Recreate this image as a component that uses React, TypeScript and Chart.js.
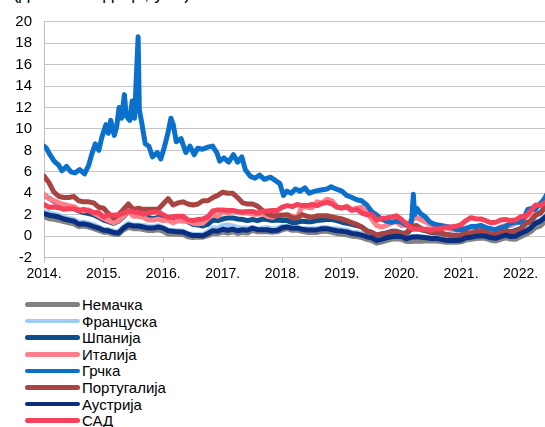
import React, { useEffect, useRef } from 'react';
import { Chart, registerables } from 'chart.js';

Chart.register(...registerables);

const TITLE = '(дневни подаци, у %)';
const START_YEAR = 2014;
const YEAR_TICKS = [2014, 2015, 2016, 2017, 2018, 2019, 2020, 2021, 2022];
const Y_TICKS = [-2, 0, 2, 4, 6, 8, 10, 12, 14, 16, 18, 20];

// Monthly values, Jan 2014 .. Jun 2022
const DE = [
  1.80, 1.62, 1.57, 1.47, 1.36, 1.25, 1.16, 0.89, 0.95, 0.84, 0.70, 0.54,
  0.36, 0.33, 0.18, 0.16, 0.58, 0.80, 0.70, 0.70, 0.62, 0.52, 0.52, 0.60,
  0.45, 0.20, 0.20, 0.18, 0.15, -0.05, -0.12, -0.08, -0.10, 0.05, 0.25, 0.25,
  0.38, 0.28, 0.40, 0.25, 0.35, 0.30, 0.55, 0.40, 0.43, 0.42, 0.37, 0.40,
  0.60, 0.70, 0.55, 0.58, 0.45, 0.35, 0.35, 0.35, 0.45, 0.45, 0.35, 0.25,
  0.18, 0.12, 0.00, -0.03, -0.12, -0.30, -0.40, -0.65, -0.55, -0.40, -0.30, -0.25,
  -0.30, -0.50, -0.50, -0.45, -0.48, -0.42, -0.46, -0.45, -0.50, -0.58, -0.58, -0.57,
  -0.53, -0.35, -0.30, -0.22, -0.17, -0.22, -0.38, -0.45, -0.30, -0.15, -0.27, -0.28,
  -0.05, 0.15, 0.40, 0.80, 0.95, 1.40,
];
const FR = [
  2.30, 2.20, 2.05, 1.95, 1.75, 1.65, 1.55, 1.30, 1.30, 1.20, 1.05, 0.85,
  0.60, 0.62, 0.45, 0.40, 0.85, 1.20, 1.05, 1.05, 1.00, 0.90, 0.88, 0.98,
  0.80, 0.55, 0.50, 0.50, 0.45, 0.25, 0.15, 0.15, 0.15, 0.40, 0.75, 0.75,
  1.00, 1.05, 0.95, 0.80, 0.75, 0.75, 0.80, 0.65, 0.75, 0.80, 0.65, 0.75,
  0.92, 0.88, 0.75, 0.80, 0.70, 0.70, 0.70, 0.70, 0.80, 0.80, 0.70, 0.70,
  0.60, 0.55, 0.35, 0.35, 0.25, 0.00, -0.15, -0.38, -0.25, -0.05, 0.05, 0.10,
  -0.05, -0.20, 0.00, -0.05, -0.05, -0.10, -0.15, -0.10, -0.20, -0.30, -0.30, -0.35,
  -0.30, -0.05, -0.05, 0.15, 0.20, 0.15, -0.05, -0.10, 0.10, 0.25, 0.10, 0.15,
  0.40, 0.65, 0.95, 1.40, 1.50, 1.95,
];
const ES = [
  3.80, 3.55, 3.25, 3.05, 2.85, 2.70, 2.60, 2.35, 2.20, 2.10, 2.00, 1.75,
  1.50, 1.35, 1.20, 1.40, 1.80, 2.30, 2.10, 2.00, 1.95, 1.75, 1.60, 1.75,
  1.65, 1.70, 1.45, 1.55, 1.55, 1.35, 1.10, 1.05, 0.95, 1.10, 1.50, 1.45,
  1.60, 1.70, 1.70, 1.60, 1.55, 1.45, 1.55, 1.45, 1.60, 1.55, 1.45, 1.50,
  1.45, 1.45, 1.25, 1.30, 1.40, 1.35, 1.35, 1.45, 1.50, 1.55, 1.55, 1.45,
  1.30, 1.20, 1.10, 1.00, 0.85, 0.50, 0.35, 0.10, 0.20, 0.30, 0.45, 0.45,
  0.30, 0.25, 0.65, 0.75, 0.60, 0.50, 0.35, 0.35, 0.25, 0.15, 0.10, 0.05,
  0.10, 0.35, 0.35, 0.45, 0.50, 0.40, 0.30, 0.30, 0.40, 0.55, 0.40, 0.55,
  0.70, 1.20, 1.40, 1.95, 2.20, 2.75,
];
const IT = [
  3.90, 3.50, 3.30, 3.10, 2.95, 2.85, 2.75, 2.45, 2.35, 2.45, 2.15, 1.90,
  1.65, 1.45, 1.25, 1.45, 1.85, 2.35, 1.85, 1.85, 1.75, 1.50, 1.50, 1.60,
  1.45, 1.50, 1.25, 1.45, 1.40, 1.40, 1.20, 1.15, 1.20, 1.65, 2.00, 1.85,
  2.30, 2.15, 2.35, 2.25, 2.15, 2.15, 2.05, 2.05, 2.10, 1.85, 1.75, 2.00,
  1.95, 1.95, 1.85, 1.75, 2.75, 2.70, 2.65, 3.20, 3.10, 3.45, 3.30, 2.75,
  2.60, 2.80, 2.50, 2.60, 2.70, 2.20, 1.60, 1.00, 0.85, 1.00, 1.25, 1.35,
  1.00, 1.05, 1.50, 1.75, 1.50, 1.30, 1.00, 1.05, 0.85, 0.75, 0.65, 0.55,
  0.70, 0.75, 0.65, 0.80, 0.95, 0.80, 0.60, 0.65, 0.85, 1.00, 1.00, 1.20,
  1.35, 1.80, 2.05, 2.75, 2.90, 3.60,
];
const PT = [
  5.60, 5.00, 4.10, 3.70, 3.60, 3.60, 3.70, 3.30, 3.20, 3.20, 3.10, 2.70,
  2.60, 2.10, 1.70, 2.00, 2.50, 3.00, 2.50, 2.60, 2.50, 2.50, 2.50, 2.50,
  3.00, 3.50, 2.90, 3.10, 3.20, 3.00, 2.90, 3.00, 3.30, 3.30, 3.60, 3.80,
  4.10, 4.00, 4.00, 3.60, 3.10, 3.00, 3.00, 2.80, 2.40, 2.10, 1.90, 1.90,
  1.95, 2.00, 1.70, 1.70, 2.00, 1.85, 1.75, 1.90, 1.90, 1.90, 1.80, 1.70,
  1.60, 1.45, 1.25, 1.10, 0.85, 0.50, 0.35, 0.10, 0.20, 0.25, 0.40, 0.45,
  0.25, 0.30, 0.90, 1.00, 0.70, 0.50, 0.35, 0.40, 0.25, 0.15, 0.05, 0.05,
  0.10, 0.30, 0.25, 0.45, 0.50, 0.40, 0.20, 0.20, 0.35, 0.50, 0.40, 0.45,
  0.60, 1.20, 1.35, 1.95, 2.15, 2.70,
];
const AT = [
  2.10, 1.95, 1.88, 1.78, 1.60, 1.50, 1.40, 1.12, 1.15, 1.05, 0.90, 0.75,
  0.55, 0.50, 0.35, 0.30, 0.75, 1.05, 0.95, 0.95, 0.85, 0.75, 0.75, 0.85,
  0.75, 0.50, 0.45, 0.40, 0.38, 0.20, 0.05, 0.05, 0.03, 0.25, 0.50, 0.45,
  0.65, 0.55, 0.65, 0.50, 0.60, 0.55, 0.75, 0.60, 0.60, 0.60, 0.50, 0.55,
  0.78, 0.85, 0.73, 0.75, 0.65, 0.57, 0.57, 0.58, 0.70, 0.70, 0.60, 0.50,
  0.45, 0.40, 0.25, 0.20, 0.10, -0.05, -0.15, -0.40, -0.30, -0.15, -0.05, 0.00,
  -0.05, -0.25, -0.10, -0.05, -0.10, -0.15, -0.22, -0.20, -0.30, -0.38, -0.40, -0.40,
  -0.35, -0.15, -0.10, 0.00, 0.05, 0.00, -0.15, -0.20, -0.05, 0.10, -0.03, 0.00,
  0.25, 0.45, 0.75, 1.20, 1.40, 1.80,
];
const US = [
  2.95, 2.70, 2.72, 2.65, 2.50, 2.55, 2.55, 2.40, 2.50, 2.35, 2.20, 2.20,
  1.80, 2.00, 1.95, 2.00, 2.15, 2.35, 2.25, 2.20, 2.05, 2.15, 2.25, 2.25,
  2.00, 1.75, 1.80, 1.85, 1.85, 1.50, 1.45, 1.55, 1.60, 1.80, 2.35, 2.45,
  2.45, 2.40, 2.40, 2.30, 2.25, 2.30, 2.30, 2.15, 2.30, 2.35, 2.40, 2.40,
  2.70, 2.85, 2.75, 2.95, 2.85, 2.85, 2.95, 2.85, 3.05, 3.15, 3.00, 2.70,
  2.65, 2.70, 2.40, 2.50, 2.15, 2.00, 2.02, 1.50, 1.65, 1.70, 1.78, 1.90,
  1.55, 1.15, 0.70, 0.65, 0.65, 0.65, 0.55, 0.70, 0.68, 0.85, 0.85, 0.92,
  1.08, 1.45, 1.72, 1.62, 1.60, 1.45, 1.25, 1.30, 1.50, 1.55, 1.45, 1.50,
  1.80, 1.85, 2.35, 2.90, 2.85, 3.15,
];

// Greece has its own, denser dates (decimal years)
const GR_DATES = [
  2014.00, 2014.04, 2014.10, 2014.17, 2014.25, 2014.30, 2014.38, 2014.45, 2014.52, 2014.60,
  2014.68, 2014.75, 2014.80, 2014.86, 2014.92, 2014.97, 2015.04, 2015.08, 2015.12, 2015.18,
  2015.22, 2015.26, 2015.30, 2015.35, 2015.38, 2015.44, 2015.48, 2015.52, 2015.55, 2015.58,
  2015.60, 2015.64, 2015.70, 2015.76, 2015.82, 2015.90, 2015.96, 2016.02, 2016.08, 2016.13,
  2016.17, 2016.22, 2016.30, 2016.38, 2016.45, 2016.52, 2016.58, 2016.66, 2016.75, 2016.83,
  2016.90, 2016.95, 2017.02, 2017.10, 2017.18, 2017.25, 2017.32, 2017.38, 2017.46, 2017.54,
  2017.62, 2017.70, 2017.80, 2017.88, 2017.96, 2018.02, 2018.08, 2018.15, 2018.22, 2018.30,
  2018.38, 2018.45, 2018.55, 2018.65, 2018.75, 2018.82, 2018.90, 2019.00, 2019.08, 2019.17,
  2019.25, 2019.33, 2019.42, 2019.50, 2019.58, 2019.66, 2019.75, 2019.83, 2019.92, 2020.00,
  2020.10, 2020.17, 2020.20, 2020.22, 2020.26, 2020.32, 2020.40, 2020.48, 2020.56, 2020.66,
  2020.75, 2020.85, 2020.93, 2021.00, 2021.08, 2021.17, 2021.25, 2021.33, 2021.42, 2021.50,
  2021.58, 2021.67, 2021.75, 2021.83, 2021.92, 2022.00, 2022.06, 2022.12, 2022.20, 2022.25,
  2022.30, 2022.36, 2022.40, 2022.45,
];
const GR = [
  8.4, 8.2, 7.6, 7.0, 6.6, 6.1, 6.5, 6.0, 5.9, 6.2,
  5.8, 6.6, 7.6, 8.6, 8.0, 9.2, 10.4, 9.6, 10.8, 9.4,
  10.2, 12.0, 11.0, 13.2, 11.2, 10.8, 12.6, 11.0, 14.8, 18.6,
  11.8, 10.6, 8.6, 8.4, 7.4, 7.8, 7.2, 8.3, 9.6, 11.0,
  10.4, 8.8, 9.1, 7.8, 8.4, 7.6, 8.2, 8.1, 8.3, 8.4,
  7.8, 7.0, 7.3, 6.9, 7.6, 6.9, 7.4, 6.2, 5.6, 5.4,
  5.7, 5.3, 5.5, 5.2, 4.9, 3.8, 4.2, 4.0, 4.4, 4.2,
  4.5, 4.0, 4.2, 4.3, 4.4, 4.6, 4.4, 4.2, 3.8, 3.6,
  3.4, 3.3, 2.9, 2.3, 2.0, 1.6, 1.4, 1.3, 1.4, 1.3,
  1.0, 1.3, 3.9, 2.0, 2.6, 2.1, 1.8, 1.3, 1.1, 1.0,
  0.9, 0.8, 0.6, 0.6, 0.7, 0.9, 0.9, 1.0, 0.8, 0.7,
  0.6, 0.8, 0.9, 1.2, 1.3, 1.3, 1.7, 2.5, 2.6, 2.5,
  2.9, 3.2, 3.5, 4.0,
];

const LABELS = ['Немачка', 'Француска', 'Шпанија', 'Италија', 'Грчка', 'Португалија', 'Аустрија', 'САД'];
const COLORS = ['#828282', '#9fcbf4', '#0c4f8c', '#fd7f89', '#0a70cb', '#a84442', '#0a2f80', '#f5415c'];

const FONT = "'Liberation Sans', Arial, sans-serif";

const monthly = (vals: number[]) => vals.map((v, i) => ({ x: START_YEAR + i / 12, y: v }));
const dated = (xs: number[], vals: number[]) => vals.map((v, i) => ({ x: xs[i], y: v }));

export default function App() {
  const ref = useRef<HTMLCanvasElement | null>(null);

  useEffect(() => {
    if (!ref.current) return;
    const seriesData = [
      monthly(DE), monthly(FR), monthly(ES), monthly(IT),
      dated(GR_DATES, GR), monthly(PT), monthly(AT), monthly(US),
    ];
    const chart = new Chart(ref.current, {
      type: 'line',
      data: {
        datasets: seriesData.map((d, i) => ({
          label: LABELS[i],
          data: d,
          borderColor: COLORS[i],
          backgroundColor: COLORS[i],
          borderWidth: 5,
          pointRadius: 0,
          tension: 0,
          borderJoinStyle: 'round',
          borderCapStyle: 'round',
          order: LABELS.length - 1 - i,
        })),
      },
      options: {
        responsive: false,
        animation: false,
        devicePixelRatio: 1,
        layout: { padding: { top: 21.7, left: 0, right: 0, bottom: 0 } },
        plugins: { legend: { display: false }, tooltip: { enabled: false } },
        scales: {
          x: {
            type: 'linear',
            min: 2014,
            max: 2022.41,
            afterBuildTicks: (s: any) => { s.ticks = YEAR_TICKS.map((v) => ({ value: v })); },
            afterFit: (s: any) => { s.height = 32.4; },
            grid: { display: true, drawOnChartArea: false, drawTicks: true, tickLength: 5, color: '#bfbfbf', lineWidth: 1 },
            border: { display: true, color: '#bfbfbf', width: 1 },
            ticks: {
              font: { family: FONT, size: 14 },
              color: '#000',
              padding: 3,
              maxRotation: 0,
              autoSkip: false,
              callback: (v: any) => `${v}.`,
            },
          },
          y: {
            min: -2,
            max: 20,
            afterBuildTicks: (s: any) => { s.ticks = Y_TICKS.map((v) => ({ value: v })); },
            afterFit: (s: any) => { s.width = 44; },
            grid: { color: '#c4c4c4', drawTicks: false, lineWidth: 1 },
            border: { display: true, color: '#bfbfbf', width: 1 },
            ticks: {
              font: { family: FONT, size: 15 },
              color: '#000',
              padding: 12,
              callback: (v: any) => String(v),
            },
          },
        },
      },
    });
    return () => chart.destroy();
  }, []);

  const rowCenters = [304.5, 321.1, 337.7, 354.3, 370.9, 387.5, 404.1, 420.7];

  return (
    <div style={{ position: 'absolute', left: 0, top: 0, width: 545, height: 427, overflow: 'hidden', background: '#fff', fontFamily: FONT }}>
      <div style={{ position: 'absolute', left: 0, top: 0, width: 545, height: 5, overflow: 'hidden' }}>
        <span style={{ position: 'absolute', left: 13, top: -17, fontSize: 18, lineHeight: '20px', color: '#000', whiteSpace: 'nowrap' }}>{TITLE}</span>
      </div>
      <canvas ref={ref} width={545} height={290} style={{ position: 'absolute', left: 0, top: 0, width: 545, height: 290 }} />
      {LABELS.map((label, i) => (
        <div key={label} style={{ position: 'absolute', left: 0, top: rowCenters[i] - 8.5, height: 17, width: 300 }}>
          <div style={{ position: 'absolute', left: 25, top: 6.25, width: 55, height: 4.5, borderRadius: 2.5, background: COLORS[i] }} />
          <span style={{ position: 'absolute', left: 82, top: 0, fontSize: 15, lineHeight: '17px', color: '#000', whiteSpace: 'nowrap' }}>{label}</span>
        </div>
      ))}
    </div>
  );
}
